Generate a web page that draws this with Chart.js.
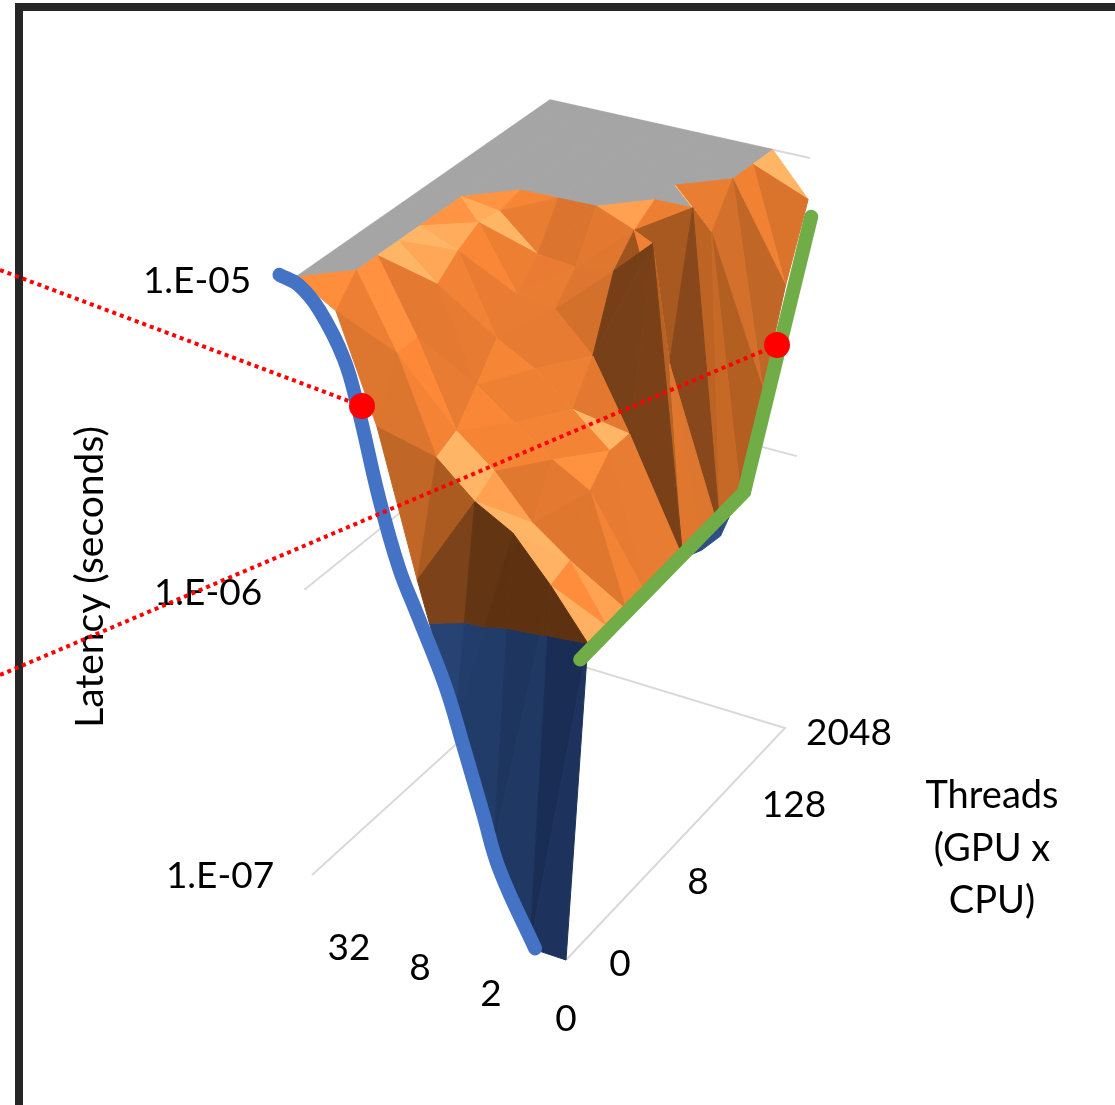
<!DOCTYPE html>
<html>
<head>
<meta charset="utf-8">
<title>Latency surface</title>
<script src="https://cdn.jsdelivr.net/npm/chart.js@4"></script>
<style>
	html, body { margin: 0; padding: 0; background: #fff; overflow: hidden; }
	#page { position: relative; width: 1115px; height: 1105px; overflow: hidden; }
	#frame { position: absolute; left: 15px; top: 3px; width: 1200px; height: 1200px; border-left: 8px solid #262626; border-top: 8px solid #262626; }
	canvas { position: absolute; left: 0; top: 0; }
</style>
</head>
<body>
<div id="page">
	<div id="frame"></div>
	<canvas id="chart" width="1115" height="1105"></canvas>
</div>
<script>
// Categories of the two floor axes
const gpuCounts = [0, 1, 2, 4, 8, 16, 32, 64];
const threadCounts = [0, 1, 2, 4, 8, 16, 32, 64, 128, 256, 512, 1024, 2048];

// log10 of latency in seconds, one array per GPU count, one value per thread count
const latencyGpu0 = [-7.00, -6.00, -6.00, -6.00, -6.00, -6.00, -6.00, -6.03, -6.04, -5.95, -5.655, -5.366, -5.134];
const latencyGpu1 = [-7.00, -5.846, -5.82, -5.65, -5.573, -5.57, -5.02, -5.446, -5, -5.125, -5, -5, -5];
const latencyGpu2 = [-6.695, -5.71, -5.73, -5.58, -5.47, -5.35, -5.13, -5.05, -5, -5, -5, -5, -5];
const latencyGpu4 = [-6.29, -5.64, -5.595, -5.49, -5.37, -5.23, -5.144, -5, -5, -5, -5, -5, -5];
const latencyGpu8 = [-5.87, -5.53, -5.495, -5.40, -5.30, -5.21, -5.13, -5, -5, -5, -5, -5, -5];
const latencyGpu16 = [-5.412, -5.23, -5.23, -5.11, -5.052, -5.01, -5.02, -5, -5, -5, -5, -5, -5];
const latencyGpu32 = [-5.08, -5, -5, -5, -5, -5, -5, -5, -5, -5, -5, -5, -5];
const latencyGpu64 = [-5, -5, -5, -5, -5, -5, -5, -5, -5, -5, -5, -5, -5];
const latencyRows = [latencyGpu0, latencyGpu1, latencyGpu2, latencyGpu4, latencyGpu8, latencyGpu16, latencyGpu32, latencyGpu64];

// Tick labels
const latencyTicks = ['1.E-07', '1.E-06', '1.E-05'];
const gpuTicks = ['0', '2', '8', '32'];
const threadTicks = ['0', '8', '128', '2048'];

// Hand drawn highlight curves, given as gpu position, thread position, log10 latency
const blueGpuPos = [0.65, 1.62, 2.08, 2.61, 3.08, 3.81, 4.26, 4.76, 5.25, 5.6, 6.2, 6.72, 7.2];
const blueLatency = [-6.96, -6.73, -6.55, -6.34, -6.16, -5.95, -5.82, -5.61, -5.35, -5.2, -5.065, -5, -4.98];
const greenThreadPos = [0.6, 9.2, 12.2];
const greenLatency = [-6.03, -5.96, -5.20];

// Red callouts, in chart units
const dotX = [362, 777];
const dotY = [406, 345];
const leaderStartY = [270, 675];

const BASE = -7;
const lastGpu = gpuCounts.length - 1;
const lastThread = threadCounts.length - 1;

// 3D box corners on screen: floor and top plane
const floorBox = { a: [566, 960], b: [312, 875], c: [785, 728], d: [552, 657] };
const topBox = { a: [572, 332], b: [296, 277], c: [810, 158], d: [550, 100] };

function bilinear(box, u, v, k) {
	return box.a[k] * (1 - u) * (1 - v) + box.b[k] * u * (1 - v) + box.c[k] * (1 - u) * v + box.d[k] * u * v;
}

// gpu position, thread position, height above 1.E-07 in decades -> chart x/y
function project(i, j, z) {
	const u = i / lastGpu;
	const v = j / lastThread;
	const t = 0.454 * z + 0.023 * z * z;
	const fx = bilinear(floorBox, u, v, 0);
	const fy = bilinear(floorBox, u, v, 1);
	return {
		x: fx + t * (bilinear(topBox, u, v, 0) - fx),
		y: fy + t * (bilinear(topBox, u, v, 1) - fy)
	};
}

// Piecewise linear lookup, stops are [position, value]
function lookup(stops, s) {
	if (s <= stops[0][0]) {
		return stops[0][1];
	}
	for (let k = 1; k < stops.length; k++) {
		if (s <= stops[k][0]) {
			const f = (s - stops[k - 1][0]) / (stops[k][0] - stops[k - 1][0]);
			return stops[k - 1][1] + f * (stops[k][1] - stops[k - 1][1]);
		}
	}
	return stops[stops.length - 1][1];
}

function lerpRamp(ramp, s) {
	const c = [0, 1, 2].map(function(n) {
		return Math.round(lookup(ramp.map(function(r) {
			return [r[0], r[1][n]];
		}), s));
	});
	return 'rgb(' + c.join(',') + ')';
}

const orangeRamp = [
	[0.25, [94, 50, 16]],
	[0.40, [126, 67, 26]],
	[0.55, [170, 90, 32]],
	[0.68, [208, 110, 42]],
	[0.79, [232, 124, 50]],
	[0.84, [255, 138, 56]],
	[0.875, [255, 181, 102]]
];
const blueRamp = [
	[0.05, [26, 45, 85]],
	[0.12, [31, 56, 100]],
	[0.35, [36, 64, 111]],
	[0.60, [46, 80, 134]]
];
const frontSlopeFade = [[0, 0.92], [0.06, 1], [0.12, 1], [0.16, 0.95], [0.4, 0.88], [0.95, 0.66], [1.5, 0.5]];
const frontFacingBoost = [[0.15, 0], [0.4, 0.15]];

// Shade of a triangle from its slope along the two floor axes
function shadeOf(p) {
	const e1 = [p[1].i - p[0].i, p[1].j - p[0].j, p[1].z - p[0].z];
	const e2 = [p[2].i - p[0].i, p[2].j - p[0].j, p[2].z - p[0].z];
	const det = e1[0] * e2[1] - e1[1] * e2[0];
	const gu = (e1[2] * e2[1] - e1[1] * e2[2]) / det;
	const gv = (e1[0] * e2[2] - e1[2] * e2[0]) / det;
	let s = (0.91 - 0.7 * gv) / Math.sqrt(1 + 4 * gv * gv) * lookup(frontSlopeFade, Math.abs(gu));
	if (gu < 0) {
		s += 3 * gu;
	} else {
		s += lookup(frontFacingBoost, gu) * Math.min(1, Math.max(0, gv) / 0.25);
	}
	return s;
}

// Keep the part of a polygon on one side of a height
function clipZ(poly, level, keepAbove) {
	const out = [];
	for (let k = 0; k < poly.length; k++) {
		const a = poly[k];
		const b = poly[(k + 1) % poly.length];
		const aIn = keepAbove ? a.z >= level : a.z <= level;
		const bIn = keepAbove ? b.z >= level : b.z <= level;
		if (aIn) {
			out.push(a);
		}
		if (aIn !== bIn) {
			const f = (level - a.z) / (b.z - a.z);
			out.push({ i: a.i + f * (b.i - a.i), j: a.j + f * (b.j - a.j), z: level });
		}
	}
	return out;
}

function polygonDataset(poly, color) {
	const pts = poly.map(function(p) {
		return project(p.i, p.j, p.z);
	});
	pts.push(pts[0]);
	return {
		data: pts,
		showLine: true,
		fill: 'shape',
		backgroundColor: color,
		borderColor: color,
		borderWidth: 1,
		pointRadius: 0,
		tension: 0
	};
}

function lineDataset(pts, color, width, extra) {
	return Object.assign({
		data: pts,
		showLine: true,
		fill: false,
		borderColor: color,
		borderWidth: width,
		pointRadius: 0,
		tension: 0
	}, extra || {});
}

function addTriangle(list, tri) {
	const top = tri.every(function(p) {
		return p.z >= 2;
	});
	if (top) {
		list.push(polygonDataset(tri, '#a5a5a5'));
		return;
	}
	const s = shadeOf(tri);
	const low = clipZ(tri, 1, false);
	const high = clipZ(tri, 1, true);
	if (low.length > 2) {
		list.push(polygonDataset(low, lerpRamp(blueRamp, s)));
	}
	if (high.length > 2) {
		list.push(polygonDataset(high, lerpRamp(orangeRamp, s)));
	}
}

function vertex(i, j) {
	return { i: i, j: j, z: latencyRows[i][j] - BASE };
}

function buildDatasets() {
	const list = [];
	const gridColor = '#d9d9d9';

	// Box edges and gridlines behind the surface
	list.push(lineDataset([project(lastGpu, 0, 0), project(lastGpu, lastThread, 0), project(0, lastThread, 0), project(0, 0, 0)], gridColor, 2));
	list.push(lineDataset([project(lastGpu, 0, 1), project(lastGpu, lastThread, 1), project(0, lastThread, 1)], gridColor, 2));
	list.push(lineDataset([project(lastGpu, 0, 2), project(lastGpu, lastThread, 2), project(0, lastThread, 2)], gridColor, 2));

	// Surface, painted from the far corner to the near corner
	for (let i = lastGpu - 1; i >= 0; i--) {
		for (let j = lastThread - 1; j >= 0; j--) {
			const a = vertex(i, j);
			const b = vertex(i + 1, j);
			const c = vertex(i, j + 1);
			const d = vertex(i + 1, j + 1);
			if (Math.abs(a.z - d.z) < Math.abs(b.z - c.z)) {
				addTriangle(list, [b, d, a]);
				addTriangle(list, [c, d, a]);
			} else {
				addTriangle(list, [d, b, c]);
				addTriangle(list, [a, b, c]);
			}
		}
	}

	// Highlights
	const bluePts = blueGpuPos.map(function(pos, k) {
		return project(pos, -0.4, blueLatency[k] - BASE);
	});
	list.push(lineDataset(bluePts, '#4472c4', 14, { tension: 0.4, borderCapStyle: 'round', borderJoinStyle: 'round' }));

	const greenPts = greenThreadPos.map(function(pos, k) {
		return project(0, pos, greenLatency[k] - BASE);
	});
	list.push(lineDataset(greenPts, '#70ad47', 14, { borderCapStyle: 'round' }));

	// Red callouts
	dotX.forEach(function(x, k) {
		list.push(lineDataset([{ x: 0, y: leaderStartY[k] }, { x: x, y: dotY[k] }], '#ff0000', 4, { borderDash: [4, 4] }));
	});
	list.push({
		data: dotX.map(function(x, k) {
			return { x: x, y: dotY[k] };
		}),
		showLine: false,
		pointRadius: 13,
		pointBackgroundColor: '#ff0000',
		pointBorderWidth: 0
	});

	// Chart.js paints high order first
	list.forEach(function(ds, k) {
		ds.order = list.length - k;
	});
	return list;
}

// Axis text, placed by hand like the Excel original
const fontFamily = 'Lato, Carlito, "Open Sans", sans-serif';
const latencyTickPos = [[220, 876], [208, 593], [197, 281]];
const gpuTickPos = [[566, 1019], [491, 994], [420, 968], [349, 948]];
const threadTickPos = [[620, 964], [698, 882], [794, 805], [849, 733]];
const threadTitle = ['Threads', '(GPU x', 'CPU)'];
const threadTitlePos = [[992, 796], [992, 849], [992, 901]];

const axisTextPlugin = {
	id: 'axisText',
	beforeDatasetsDraw: function(chart) {
		const ctx = chart.ctx;
		const sx = chart.scales.x;
		const sy = chart.scales.y;
		function put(text, pos) {
			ctx.fillText(text, sx.getPixelForValue(pos[0]), sy.getPixelForValue(pos[1]));
		}
		ctx.save();
		ctx.font = '37px ' + fontFamily;
		ctx.fillStyle = '#000';
		ctx.textAlign = 'center';
		ctx.textBaseline = 'middle';
		latencyTicks.forEach(function(t, k) { put(t, latencyTickPos[k]); });
		gpuTicks.forEach(function(t, k) { put(t, gpuTickPos[k]); });
		threadTicks.forEach(function(t, k) { put(t, threadTickPos[k]); });
		ctx.font = '38px ' + fontFamily;
		threadTitle.forEach(function(t, k) { put(t, threadTitlePos[k]); });
		ctx.font = '39px ' + fontFamily;
		ctx.translate(sx.getPixelForValue(90), sy.getPixelForValue(577));
		ctx.rotate(-Math.PI / 2);
		ctx.fillText('Latency (seconds)', 0, 0);
		ctx.restore();
	}
};

new Chart(document.getElementById('chart'), {
	type: 'scatter',
	data: { datasets: buildDatasets() },
	plugins: [axisTextPlugin],
	options: {
		responsive: false,
		animation: false,
		layout: { padding: 0, autoPadding: false },
		plugins: {
			legend: { display: false },
			tooltip: { enabled: false },
			title: { display: false }
		},
		scales: {
			x: { type: 'linear', display: false, min: 0, max: 1115 },
			y: { type: 'linear', display: false, min: 0, max: 1105, reverse: true }
		}
	}
});
</script>
</body>
</html>
